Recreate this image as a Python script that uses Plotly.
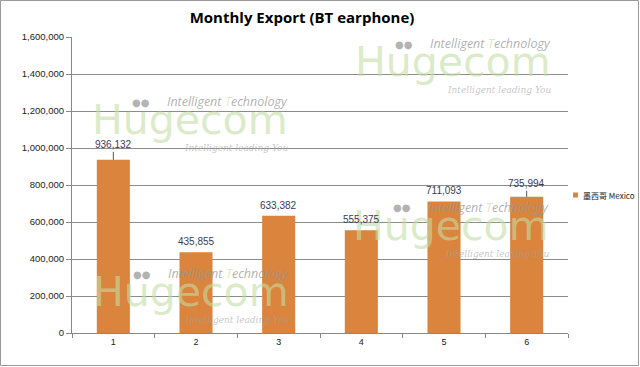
import plotly.graph_objects as go

months = ["1", "2", "3", "4", "5", "6"]
mexico = [936132, 435855, 633382, 555375, 711093, 735994]
y_ticks = [0, 200000, 400000, 600000, 800000, 1000000, 1200000, 1400000, 1600000]
series_name = "墨西哥 Mexico"
title = "Monthly Export (BT earphone)"

W, H = 640, 367
L, R, T, B = 72, 72, 37, 34
pw, ph = W - L - R, H - T - B

def px(X):
    return (X - L) / pw

def py(Y):
    return (H - B - Y) / ph

fig = go.Figure()
fig.add_trace(go.Bar(
    x=months, y=mexico, name=series_name,
    marker=dict(color="#DB843D", line=dict(width=0)),
    width=0.4, showlegend=False,
))

ann = []
# watermarks: (right edge, y of "Intelligent Technology")
marks = [(290, 101), (553, 43), (551, 207), (291, 273)]
for rx, ty in marks:
    ann.append(dict(x=px(rx), y=py(ty + 19), xref="paper", yref="paper", xanchor="right", yanchor="middle",
                    text="Hugecom", showarrow=False,
                    font=dict(family="DejaVu Sans", size=41, color="rgba(195,222,165,0.62)")))
    ann.append(dict(x=px(rx - 138), y=py(ty + 1), xref="paper", yref="paper", xanchor="right", yanchor="middle",
                    text="●●", showarrow=False,
                    font=dict(family="DejaVu Sans", size=10, color="rgba(165,165,165,0.85)")))
    ann.append(dict(x=px(rx), y=py(ty), xref="paper", yref="paper", xanchor="right", yanchor="middle",
                    text="<i>Intelligent <span style='color:rgba(200,224,170,0.9)'>T</span>echnology</i>", showarrow=False,
                    font=dict(family="Open Sans", size=12.5, color="rgba(150,150,150,0.75)")))
    ann.append(dict(x=px(rx), y=py(ty + 47), xref="paper", yref="paper", xanchor="right", yanchor="middle",
                    text="<i>Intelligent leading You</i>", showarrow=False,
                    font=dict(family="DejaVu Serif", size=9, color="rgba(160,160,160,0.6)")))

# data labels (x given as category index)
for i, v in enumerate(mexico):
    label = f"{v:,}"
    if i in (0, 5):
        ann.append(dict(x=i, y=v, xref="x", yref="y", text=label, showarrow=True,
                        ax=0, ay=-15 if i == 0 else -13, arrowhead=0, arrowwidth=1, arrowcolor="#555555",
                        font=dict(family="Liberation Sans", size=10, color="#3a3a5c")))
    else:
        ann.append(dict(x=i, y=v, xref="x", yref="y", text=label, showarrow=False,
                        yanchor="bottom", yshift=3,
                        font=dict(family="Liberation Sans", size=10, color="#3a3a5c")))

# manual legend
ann.append(dict(x=px(581), y=py(195), xref="paper", yref="paper", xanchor="left", yanchor="middle",
                text=series_name, showarrow=False,
                font=dict(family="Noto Sans CJK SC", size=8, color="#222")))

fig.update_layout(
    width=W, height=H,
    margin=dict(l=L, r=R, t=T, b=B, autoexpand=False),
    paper_bgcolor="white", plot_bgcolor="white",
    title=dict(text=f"<b>{title}</b>", x=302 / W, xanchor="center", y=1 - 18 / H, yanchor="middle",
               font=dict(family="Open Sans", size=15, color="black")),
    showlegend=False,
    xaxis=dict(type="category", categoryorder="array", categoryarray=months,
               range=[-0.5, len(months) - 0.5],
               showline=True, linecolor="#888", linewidth=1,
               ticks="outside", tickson="boundaries", ticklen=4, tickcolor="#888",
               showgrid=False, zeroline=False,
               tickfont=dict(family="Liberation Sans", size=9, color="#222")),
    yaxis=dict(range=[0, 1600000], tickvals=y_ticks, tickformat=",d",
               showline=True, linecolor="#888", linewidth=1,
               ticks="outside", ticklen=5, tickcolor="#888",
               gridcolor="#8c8c8c", gridwidth=1,
               tickfont=dict(family="Liberation Sans", size=9.5, color="#222"),
               zeroline=False),
    annotations=ann,
    shapes=[
        dict(type="rect", xref="paper", yref="paper",
             x0=-L / pw + 0.5 / pw, x1=1 + (R - 1.5) / pw,
             y0=-(B - 1.5) / ph, y1=1 + (T - 0.5) / ph,
             line=dict(color="#999", width=1), layer="above"),
        dict(type="rect", xref="paper", yref="paper",
             x0=px(573), x1=px(578), y0=py(197.5), y1=py(192.5),
             fillcolor="#DB843D", line=dict(width=0)),
    ],
)
fig.write_html("out.html", config={"displayModeBar": False},
               post_script="document.body.style.margin='0';document.body.style.overflow='hidden';")
